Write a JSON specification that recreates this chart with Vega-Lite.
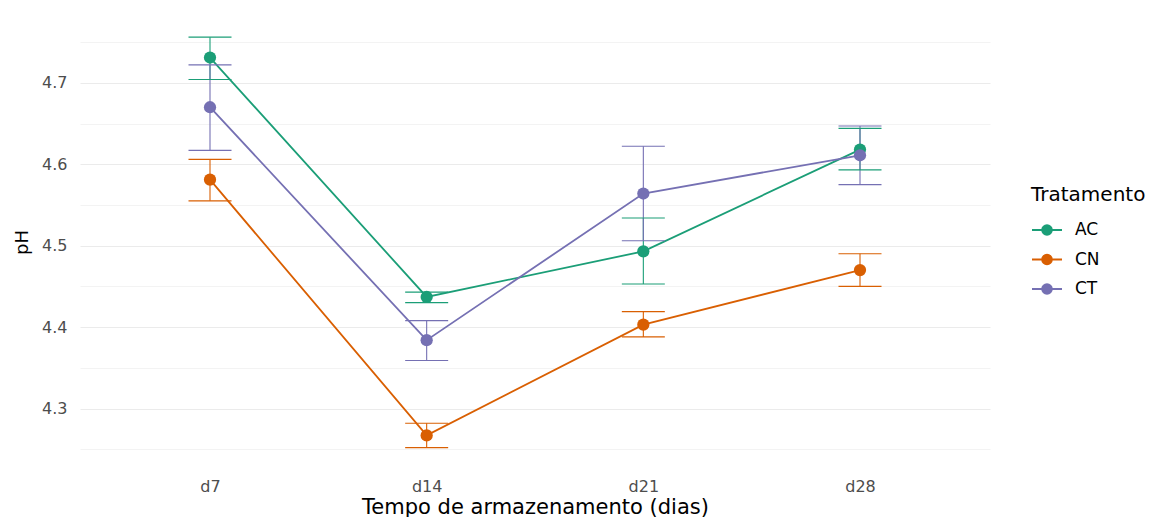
{
  "$schema": "https://vega.github.io/schema/vega-lite/v6.json",
  "width": 910,
  "height": 452,
  "autosize": "none",
  "padding": {"left": 80, "top": 16, "right": 164, "bottom": 49},
  "background": "white",
  "config": {
    "view": {"stroke": null},
    "font": "DejaVu Sans",
    "axis": {
      "domain": false,
      "ticks": false,
      "gridColor": "#EBEBEB",
      "labelColor": "#4D4D4D",
      "labelFont": "DejaVu Sans",
      "labelFontSize": 16,
      "titleFont": "DejaVu Sans",
      "titleFontSize": 20,
      "titleFontWeight": "normal",
      "titleColor": "#000000"
    }
  },
  "data": {
    "values": [
      {"dia": "d7", "trat": "AC", "ph": 4.731, "lo": 4.704, "hi": 4.756},
      {"dia": "d14", "trat": "AC", "ph": 4.437, "lo": 4.430, "hi": 4.443},
      {"dia": "d21", "trat": "AC", "ph": 4.493, "lo": 4.453, "hi": 4.534},
      {"dia": "d28", "trat": "AC", "ph": 4.618, "lo": 4.593, "hi": 4.644},
      {"dia": "d7", "trat": "CN", "ph": 4.581, "lo": 4.555, "hi": 4.606},
      {"dia": "d14", "trat": "CN", "ph": 4.267, "lo": 4.252, "hi": 4.282},
      {"dia": "d21", "trat": "CN", "ph": 4.403, "lo": 4.388, "hi": 4.419},
      {"dia": "d28", "trat": "CN", "ph": 4.470, "lo": 4.450, "hi": 4.490},
      {"dia": "d7", "trat": "CT", "ph": 4.670, "lo": 4.617, "hi": 4.722},
      {"dia": "d14", "trat": "CT", "ph": 4.384, "lo": 4.359, "hi": 4.408},
      {"dia": "d21", "trat": "CT", "ph": 4.564, "lo": 4.506, "hi": 4.622},
      {"dia": "d28", "trat": "CT", "ph": 4.611, "lo": 4.575, "hi": 4.647}
    ]
  },
  "encoding": {
    "x": {
      "field": "dia",
      "type": "ordinal",
      "sort": ["d7", "d14", "d21", "d28"],
      "scale": {"type": "point", "padding": 0.6},
      "axis": {
        "title": "Tempo de armazenamento (dias)",
        "titleFontSize": 21,
        "labelAngle": 0,
        "labelPadding": 10,
        "titlePadding": 2,
        "gridWidth": 1.1
      }
    },
    "color": {
      "field": "trat",
      "type": "nominal",
      "scale": {"domain": ["AC", "CN", "CT"], "range": ["#1B9E77", "#D95F02", "#7570B3"]},
      "legend": {
        "title": "Tratamento",
        "orient": "none",
        "legendX": 951,
        "legendY": 169,
        "titleFont": "DejaVu Sans",
        "titleFontSize": 20,
        "titleFontWeight": "normal",
        "titleColor": "#000000",
        "titlePadding": 9,
        "labelFont": "DejaVu Sans",
        "labelFontSize": 17,
        "labelColor": "#000000",
        "labelOffset": 12,
        "rowPadding": 4.5,
        "symbolType": "M -1 0 L 1 0 M -0.32 0 A 0.32 0.32 0 1 0 0.32 0 A 0.32 0.32 0 1 0 -0.32 0 Z",
        "symbolSize": 900,
        "symbolStrokeWidth": 2,
        "symbolOpacity": 1
      }
    }
  },
  "layer": [
    {
      "mark": {"type": "line", "strokeWidth": 1.8},
      "encoding": {
        "y": {
          "field": "ph",
          "type": "quantitative",
          "scale": {"domain": [4.227, 4.782], "nice": false, "zero": false},
          "axis": {
            "title": "pH",
            "titleFontSize": 18,
            "values": [4.25, 4.3, 4.35, 4.4, 4.45, 4.5, 4.55, 4.6, 4.65, 4.7, 4.75],
            "labelExpr": "abs(datum.value * 10 - round(datum.value * 10)) < 0.01 ? format(datum.value, '.1f') : ''",
            "gridWidth": {"condition": {"test": "abs(datum.value * 10 - round(datum.value * 10)) < 0.01", "value": 1.1}, "value": 0.6},
            "labelPadding": 13,
            "titlePadding": 10
          }
        }
      }
    },
    {
      "mark": {"type": "rule", "strokeWidth": 1.1},
      "encoding": {
        "y": {"field": "lo", "type": "quantitative"},
        "y2": {"field": "hi"}
      }
    },
    {
      "mark": {"type": "tick", "size": 43, "thickness": 1.1, "opacity": 1},
      "encoding": {"y": {"field": "lo", "type": "quantitative"}}
    },
    {
      "mark": {"type": "tick", "size": 43, "thickness": 1.1, "opacity": 1},
      "encoding": {"y": {"field": "hi", "type": "quantitative"}}
    },
    {
      "mark": {"type": "point", "filled": true, "size": 150, "opacity": 1},
      "encoding": {"y": {"field": "ph", "type": "quantitative"}}
    }
  ]
}
